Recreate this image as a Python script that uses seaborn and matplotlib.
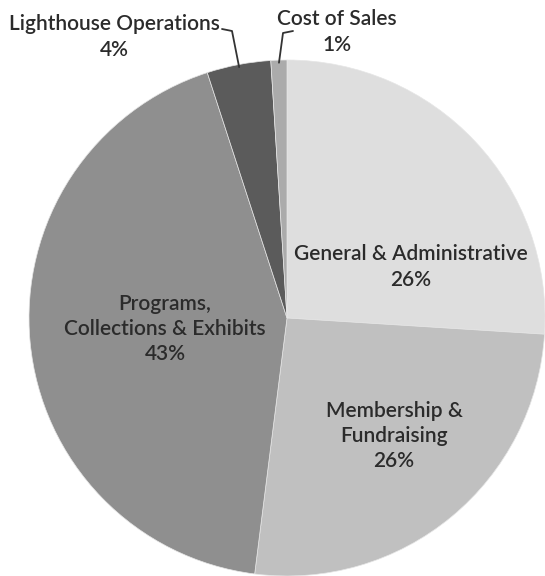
import numpy as np
import seaborn as sns
import matplotlib.pyplot as plt

sns.set_theme(style="white")
plt.rcParams['font.family'] = ['Lato', 'DejaVu Sans']

categories = ["General & Administrative", "Membership &\nFundraising",
              "Programs,\nCollections & Exhibits", "Lighthouse Operations", "Cost of Sales"]
shares = [26, 26, 43, 4, 1]
colors = ["#dedede", "#c0c0c0", "#8f8f8f", "#5b5b5b", "#ababab"]

W, H = 545, 576
cx, cy, R = 287, 318, 258   # pie centre / radius in pixels

fig = plt.figure(figsize=(W / 100, H / 100), dpi=100)
ax = fig.add_axes([(cx - R) / W, (H - cy - R) / H, 2 * R / W, 2 * R / H])

wedges, _ = ax.pie(shares, colors=colors, startangle=90, counterclock=False,
                   wedgeprops=dict(linewidth=0.5, edgecolor="#e6e6e6"))
ax.set_xlim(-1, 1)
ax.set_ylim(-1, 1)
ax.axis("off")


def px(x, y):
    return (x - cx) / R, (cy - y) / R


fs = 15
tc = "#2b2b2b"
kw = dict(ha="center", va="center", fontsize=fs, color=tc, linespacing=1.32,
          fontweight="semibold")
# inside labels
inside = {0: (411, 267), 1: (394, 436), 2: (165, 329)}
for i, (x, y) in inside.items():
    ax.text(*px(x, y), f"{categories[i]}\n{shares[i]}%", **kw)

# outside labels with leader lines
outside = {3: ((114, 37), (222, 29), (232, 31)), 4: ((337, 32), (293, 31), (283, 33))}
for i, (tpos, start, bend) in outside.items():
    ax.text(*px(*tpos), f"{categories[i]}\n{shares[i]}%", **kw)
    w = wedges[i]
    mid = np.deg2rad((w.theta1 + w.theta2) / 2)
    ex, ey = 0.99 * np.cos(mid), 0.99 * np.sin(mid)
    p0, p1 = px(*start), px(*bend)
    ax.plot([p0[0], p1[0], ex], [p0[1], p1[1], ey], color="#333333", lw=1.3,
            clip_on=False)

fig.savefig("out.png", dpi=100, facecolor="white")
